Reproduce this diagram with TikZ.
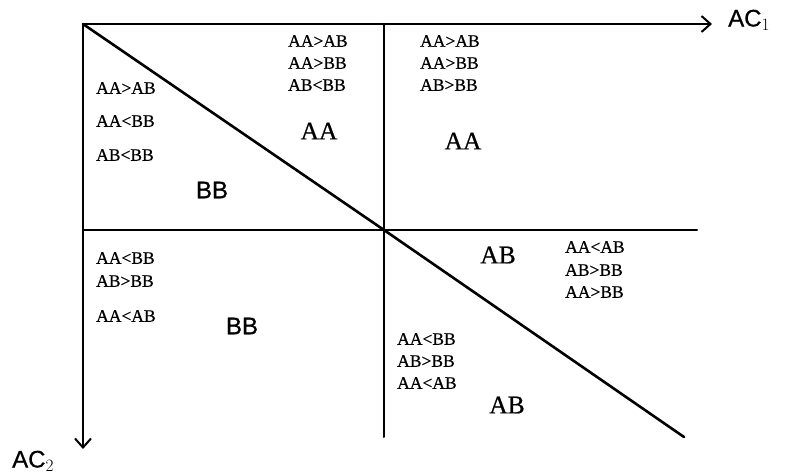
\documentclass[tikz,border=0pt]{standalone}
\usepackage{fontspec}
\setmainfont{Liberation Serif}[FakeBold=0.6]
\newfontfamily\hserif{Liberation Serif}[FakeBold=0.6]
\newfontfamily\hsans{Liberation Sans}[FakeBold=0.6]
\usetikzlibrary{arrows.meta}
\begin{document}
\begin{tikzpicture}[x=1pt,y=-1pt,
  frame/.style={line width=2pt, line cap=round},
  diag/.style={line width=2.6pt, line cap=round},
  axis/.style={line width=2pt, -{Straight Barb[length=9pt,width=16pt,line width=2pt]}},
  cond/.style={anchor=west, inner sep=0pt, font=\hserif\fontsize{17.5}{20}\selectfont},
  bigs/.style={inner sep=0pt, font=\hserif\fontsize{25.5}{28}\selectfont},
  bigsans/.style={inner sep=0pt, font=\hsans\fontsize{24}{28}\selectfont},
  axlabel/.style={inner sep=0pt, font=\hsans\fontsize{24}{28}\selectfont}]
\useasboundingbox (0,0) rectangle (787,476);
% corner points
\coordinate (O) at (83,24);
\coordinate (TR) at (712,24);
\coordinate (M) at (384,24);
\coordinate (C) at (384,230);
\coordinate (L) at (83,230);
\coordinate (R) at (697,230);
\coordinate (MB) at (384,437);
\coordinate (BL) at (83,449);
\coordinate (D) at (684,437);
% frame
\draw[axis] (O) -- (TR);
\draw[axis] (O) -- (BL);
\draw[frame] (M) -- (MB);
\draw[frame] (L) -- (R);
\draw[diag] (O) -- (C) -- (D);
% axis labels
\node[axlabel, anchor=west] (ac1) at (728,20) {AC$_1$};
\node[axlabel, anchor=west] (ac2) at (12,461) {AC$_2$};
% top-left region
\node[cond] (t1a) at (96,88) {AA>AB};
\node[cond] (t1b) at (96,121) {AA<BB};
\node[cond] (t1c) at (96,155) {AB<BB};
\node[bigsans] (t1L) at (212,190) {BB};
% top-middle region
\node[cond] (t2a) at (288,41) {AA>AB};
\node[cond] (t2b) at (288,63) {AA>BB};
\node[cond] (t2c) at (288,85) {AB<BB};
\node[bigs] (t2L) at (319,131) {AA};
% top-right region
\node[cond] (t3a) at (420,41) {AA>AB};
\node[cond] (t3b) at (420,63) {AA>BB};
\node[cond] (t3c) at (420,85) {AB>BB};
\node[bigs] (t3L) at (463,141) {AA};
% bottom-left region
\node[cond] (b1a) at (96,258) {AA<BB};
\node[cond] (b1b) at (96,281) {AB>BB};
\node[cond] (b1c) at (96,316) {AA<AB};
\node[bigsans] (b1L) at (242,326) {BB};
% bottom-right upper region
\node[bigs] (b2L) at (498,255) {AB};
\node[cond] (b2a) at (565,247) {AA<AB};
\node[cond] (b2b) at (565,270) {AB>BB};
\node[cond] (b2c) at (565,292) {AA>BB};
% bottom-right lower region
\node[cond] (b3a) at (397,339) {AA<BB};
\node[cond] (b3b) at (397,361) {AB>BB};
\node[cond] (b3c) at (397,383) {AA<AB};
\node[bigs] (b3L) at (507,405) {AB};
\end{tikzpicture}
\end{document}
